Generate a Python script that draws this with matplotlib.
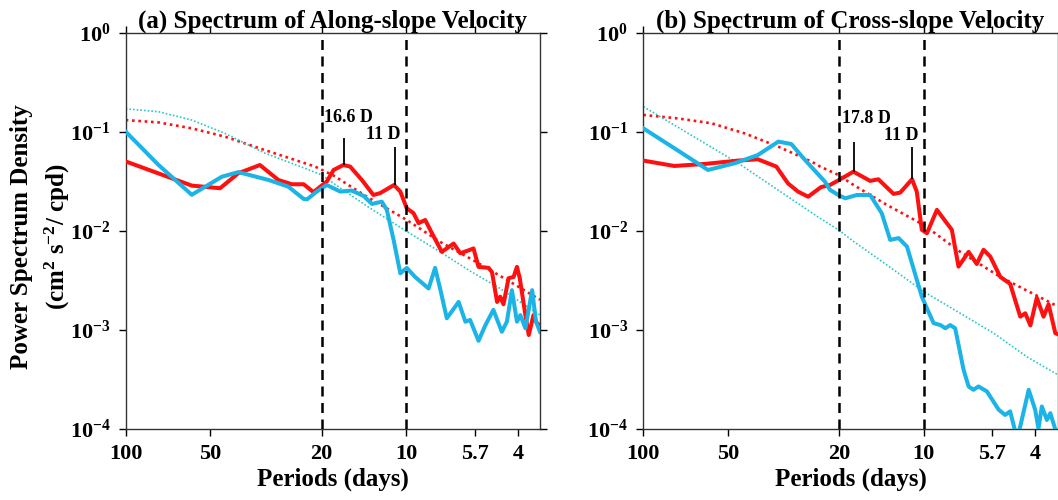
import matplotlib
matplotlib.use('Agg')
import matplotlib.pyplot as plt
from matplotlib.ticker import FixedLocator, FixedFormatter, NullLocator

plt.rcParams['font.family'] = ['Liberation Serif', 'DejaVu Serif']
plt.rcParams['font.weight'] = 'bold'
plt.rcParams['mathtext.fontset'] = 'custom'
plt.rcParams['mathtext.rm'] = 'Liberation Serif:bold'
plt.rcParams['mathtext.bf'] = 'Liberation Serif:bold'
plt.rcParams['mathtext.it'] = 'Liberation Serif:bold:italic'
plt.rcParams['mathtext.default'] = 'bf'

# ---------------- data (frequency in cpd, PSD in cm^2 s^-2 / cpd) ----------------
# Panel (a): along-slope velocity
freq_a_red = [0.0100, 0.0172, 0.0217, 0.0252, 0.0301, 0.0350, 0.0391, 0.0431, 0.0467,
              0.0521, 0.0551, 0.0597, 0.0631, 0.0695, 0.0764, 0.0807, 0.0905, 0.0953,
              0.1005, 0.1062, 0.1107, 0.1169, 0.1236, 0.1340, 0.1476, 0.1560, 0.1690,
              0.1738, 0.1811, 0.1968, 0.2023, 0.2109, 0.2163, 0.2223, 0.2317, 0.2415,
              0.2483, 0.2541, 0.2661, 0.2735, 0.2844, 0.2924, 0.3000]
psd_a_red = [0.050, 0.0285, 0.0268, 0.038, 0.046, 0.0325, 0.0294, 0.0294, 0.0245,
             0.0313, 0.041, 0.046, 0.0444, 0.0325, 0.0229, 0.0239, 0.0289, 0.0248,
             0.0168, 0.015, 0.0119, 0.0128, 0.0094, 0.0061, 0.0074, 0.0059, 0.0064,
             0.0066, 0.0043, 0.0042, 0.0038, 0.0019, 0.00215, 0.0018, 0.0033, 0.0034,
             0.0043, 0.0033, 0.0014, 0.00088, 0.0014, 0.00116, 0.0011]

freq_a_cyan = [0.0100, 0.0131, 0.0172, 0.0220, 0.0252, 0.0323, 0.0380, 0.0431, 0.0443,
               0.0480, 0.0521, 0.0582, 0.0640, 0.0705, 0.0755, 0.0819, 0.0853, 0.0902,
               0.0953, 0.1005, 0.1076, 0.1202, 0.1268, 0.1321, 0.1396, 0.1538, 0.1626,
               0.1690, 0.1811, 0.1914, 0.2046, 0.2193, 0.2286, 0.2382, 0.2483, 0.2553,
               0.2661, 0.2812, 0.2904, 0.3000]
psd_a_cyan = [0.100, 0.046, 0.023, 0.035, 0.039, 0.0325, 0.0278, 0.0209, 0.0207,
              0.0248, 0.0289, 0.0248, 0.0254, 0.0224, 0.0186, 0.0196, 0.0162, 0.00805,
              0.0037, 0.0042, 0.0034, 0.0026, 0.0042, 0.0026, 0.0013, 0.0019, 0.0012,
              0.00125, 0.00077, 0.0011, 0.00158, 0.00095, 0.0012, 0.0025, 0.0012, 0.0014,
              0.00103, 0.0025, 0.0012, 0.00095]

freq_a_red_fit = [0.0100, 0.0131, 0.0172, 0.0226, 0.0314, 0.0473, 0.0551, 0.0724, 0.1005,
                  0.1321, 0.1738, 0.2415, 0.3000]
psd_a_red_fit = [0.131, 0.124, 0.108, 0.089, 0.065, 0.0444, 0.036, 0.022, 0.0128,
                 0.0077, 0.0050, 0.0029, 0.0020]

freq_a_cyan_fit = [0.0100, 0.0131, 0.0172, 0.0226, 0.0314, 0.0419, 0.0500, 0.0551, 0.0724,
                   0.1005, 0.1321, 0.1690, 0.2163, 0.3000]
psd_a_cyan_fit = [0.170, 0.159, 0.131, 0.096, 0.0605, 0.0444, 0.0365, 0.030, 0.0177,
                  0.0098, 0.0061, 0.0039, 0.0026, 0.0014]

# Panel (b): cross-slope velocity
freq_b_red = [0.0100, 0.0129, 0.0166, 0.0218, 0.0256, 0.0298, 0.0328, 0.0356, 0.0387,
              0.0430, 0.0463, 0.0504, 0.0561, 0.0644, 0.0689, 0.0780, 0.0824, 0.0908,
              0.0944, 0.0984, 0.1026, 0.1114, 0.1208, 0.1259, 0.1330, 0.1445, 0.1545,
              0.1633, 0.1726, 0.1875, 0.2032, 0.2208, 0.2301, 0.2399, 0.2529, 0.2673,
              0.2786, 0.2944, 0.3000]
psd_b_red = [0.051, 0.045, 0.0472, 0.051, 0.0526, 0.0444, 0.030, 0.0248, 0.022,
             0.0275, 0.0289, 0.033, 0.0394, 0.0318, 0.033, 0.0235, 0.0242, 0.033,
             0.0248, 0.0102, 0.0094, 0.0162, 0.0119, 0.0102, 0.00433, 0.0061, 0.0046,
             0.0064, 0.00546, 0.0034, 0.0029, 0.00135, 0.00146, 0.0011, 0.0021, 0.00135,
             0.0018, 0.00092, 0.0009]

freq_b_cyan = [0.0100, 0.0129, 0.0170, 0.0212, 0.0256, 0.0303, 0.0337, 0.0377, 0.0444,
               0.0463, 0.0496, 0.0525, 0.0577, 0.0644, 0.0708, 0.0759, 0.0813, 0.0871,
               0.0944, 0.0984, 0.1026, 0.1084, 0.1146, 0.1194, 0.1242, 0.1294, 0.1387,
               0.1445, 0.1503, 0.1567, 0.1679, 0.1849, 0.1950, 0.2032, 0.2148, 0.2208,
               0.2366, 0.2495, 0.2564, 0.2636, 0.2748, 0.2825, 0.2944, 0.3000]
psd_b_cyan = [0.108, 0.068, 0.041, 0.048, 0.058, 0.0793, 0.075, 0.0518, 0.0313,
              0.0258, 0.0229, 0.0212, 0.0229, 0.0229, 0.015, 0.00805, 0.0084, 0.0069,
              0.0032, 0.00215, 0.00164, 0.00116, 0.00111, 0.00103, 0.00111, 0.00103, 0.00039,
              0.000266, 0.000246, 0.000266, 0.000237, 0.000155, 0.000137, 0.000149, 0.00008, 0.000105,
              0.000246, 0.000155, 0.0001, 0.000167, 0.000122, 0.000143, 0.000098, 0.00009]

freq_b_red_fit = [0.0100, 0.0133, 0.0175, 0.0230, 0.0303, 0.0398, 0.0427, 0.0496, 0.0561,
                  0.0738, 0.1000, 0.1349, 0.1875, 0.2904, 0.3000]
psd_b_red_fit = [0.1475, 0.136, 0.1215, 0.096, 0.0705, 0.0498, 0.0444, 0.0365, 0.0290,
                 0.0182, 0.0114, 0.0061, 0.0034, 0.0018, 0.00175]

freq_b_cyan_fit = [0.0100, 0.0218, 0.0328, 0.0427, 0.0496, 0.0561, 0.0738, 0.1000, 0.1349,
                   0.1774, 0.2333, 0.3000]
psd_b_cyan_fit = [0.179, 0.048, 0.022, 0.0133, 0.0102, 0.0078, 0.0045, 0.00242, 0.00146,
                  0.00092, 0.00053, 0.00035]

# Peak annotations: frequency, peak PSD, top of marker line, label
peaks_a_freq = [1 / 16.6, 1 / 11.0]
peaks_a_psd = [0.046, 0.0289]
peaks_a_top = [0.0857, 0.0705]
peaks_a_text = ['16.6 D', '11 D']
peaks_b_freq = [1 / 17.8, 1 / 11.0]
peaks_b_psd = [0.0394, 0.033]
peaks_b_top = [0.0793, 0.0705]
peaks_b_text = ['17.8 D', '11 D']

period_ticks = [100, 50, 20, 10, 5.7, 4]
period_labels = ['100', '50', '20', '10', '5.7', '4']
dashed_periods = [20, 10]
ytick_vals = [1e-4, 1e-3, 1e-2, 1e-1, 1e0]
ytick_labels = [r'$10^{-4}$', r'$10^{-3}$', r'$10^{-2}$', r'$10^{-1}$', r'$10^{0}$']

titles = ['(a) Spectrum of Along-slope Velocity', '(b) Spectrum of Cross-slope Velocity']

RED = '#FF1010'
CYAN = '#1CB4E6'
CYAN_FIT = '#2EC6C6'

fig = plt.figure(figsize=(10.58, 5.0), dpi=100)
W, H = 1058.0, 500.0
axA = fig.add_axes([125.7 / W, 1 - 428.5 / H, 414.3 / W, 395.8 / H])
axB = fig.add_axes([643.3 / W, 1 - 428.5 / H, 414.3 / W, 395.8 / H])

panels = [
    (axA, freq_a_red, psd_a_red, freq_a_cyan, psd_a_cyan, freq_a_red_fit, psd_a_red_fit,
     freq_a_cyan_fit, psd_a_cyan_fit, peaks_a_freq, peaks_a_psd, peaks_a_top, peaks_a_text,
     [(0.0621, 0.125), (0.0828, 0.0837)]),
    (axB, freq_b_red, psd_b_red, freq_b_cyan, psd_b_cyan, freq_b_red_fit, psd_b_red_fit,
     freq_b_cyan_fit, psd_b_cyan_fit, peaks_b_freq, peaks_b_psd, peaks_b_top, peaks_b_text,
     [(0.0627, 0.1227), (0.0831, 0.0815)]),
]

for i, (ax, fr, pr, fc, pc, frf, prf, fcf, pcf, pkf, pkp, pkt, pktx, txtpos) in enumerate(panels):
    ax.plot(frf, prf, color=RED, lw=1.9, ls=(0, (1, 1.4)), zorder=2)
    ax.plot(fcf, pcf, color=CYAN_FIT, lw=1.2, ls=(0, (1, 1.2)), zorder=2)
    ax.plot(fr, pr, color=RED, lw=2.9, zorder=3, solid_joinstyle='round')
    ax.plot(fc, pc, color=CYAN, lw=2.9, zorder=4, solid_joinstyle='round')
    for p in dashed_periods:
        ax.axvline(1.0 / p, color='black', lw=1.8, ls=(0, (4, 2.6)), zorder=5)
    ax.vlines(pkf, pkp, pkt, color='black', lw=1.3, zorder=6)
    for (tx, ty), s in zip(txtpos, pktx):
        ax.text(tx, ty, s, ha='center', va='baseline', fontsize=13, fontweight='bold', zorder=7)

    ax.set_xscale('log')
    ax.set_yscale('log')
    ax.set_xlim(0.01, 0.3)
    ax.set_ylim(1e-4, 1.0)
    ax.xaxis.set_major_locator(FixedLocator([1.0 / p for p in period_ticks]))
    ax.xaxis.set_major_formatter(FixedFormatter(period_labels))
    ax.xaxis.set_minor_locator(NullLocator())
    ax.yaxis.set_major_locator(FixedLocator(ytick_vals))
    ax.yaxis.set_major_formatter(FixedFormatter(ytick_labels))
    ax.yaxis.set_minor_locator(NullLocator())
    ax.tick_params(axis='both', which='major', direction='out', length=5, width=1,
                   top=True, right=True, labelsize=16, pad=6, colors='black')
    for sp in ax.spines.values():
        sp.set_linewidth(1.0)
        sp.set_color('#333333')
    ax.set_xlabel('Periods (days)', fontsize=18, fontweight='bold', labelpad=3)
    ax.set_title(titles[i], fontsize=18, fontweight='bold', pad=4)

fig.text(22 / W, 0.526, 'Power Spectrum Density', rotation=90, ha='center', va='center',
         fontsize=18, fontweight='bold')
fig.text(57 / W, 0.526, r'(cm$^{2}$ s$^{-2}$/ cpd)', rotation=90, ha='center', va='center',
         fontsize=18, fontweight='bold')

fig.savefig('out.png', dpi=100)
